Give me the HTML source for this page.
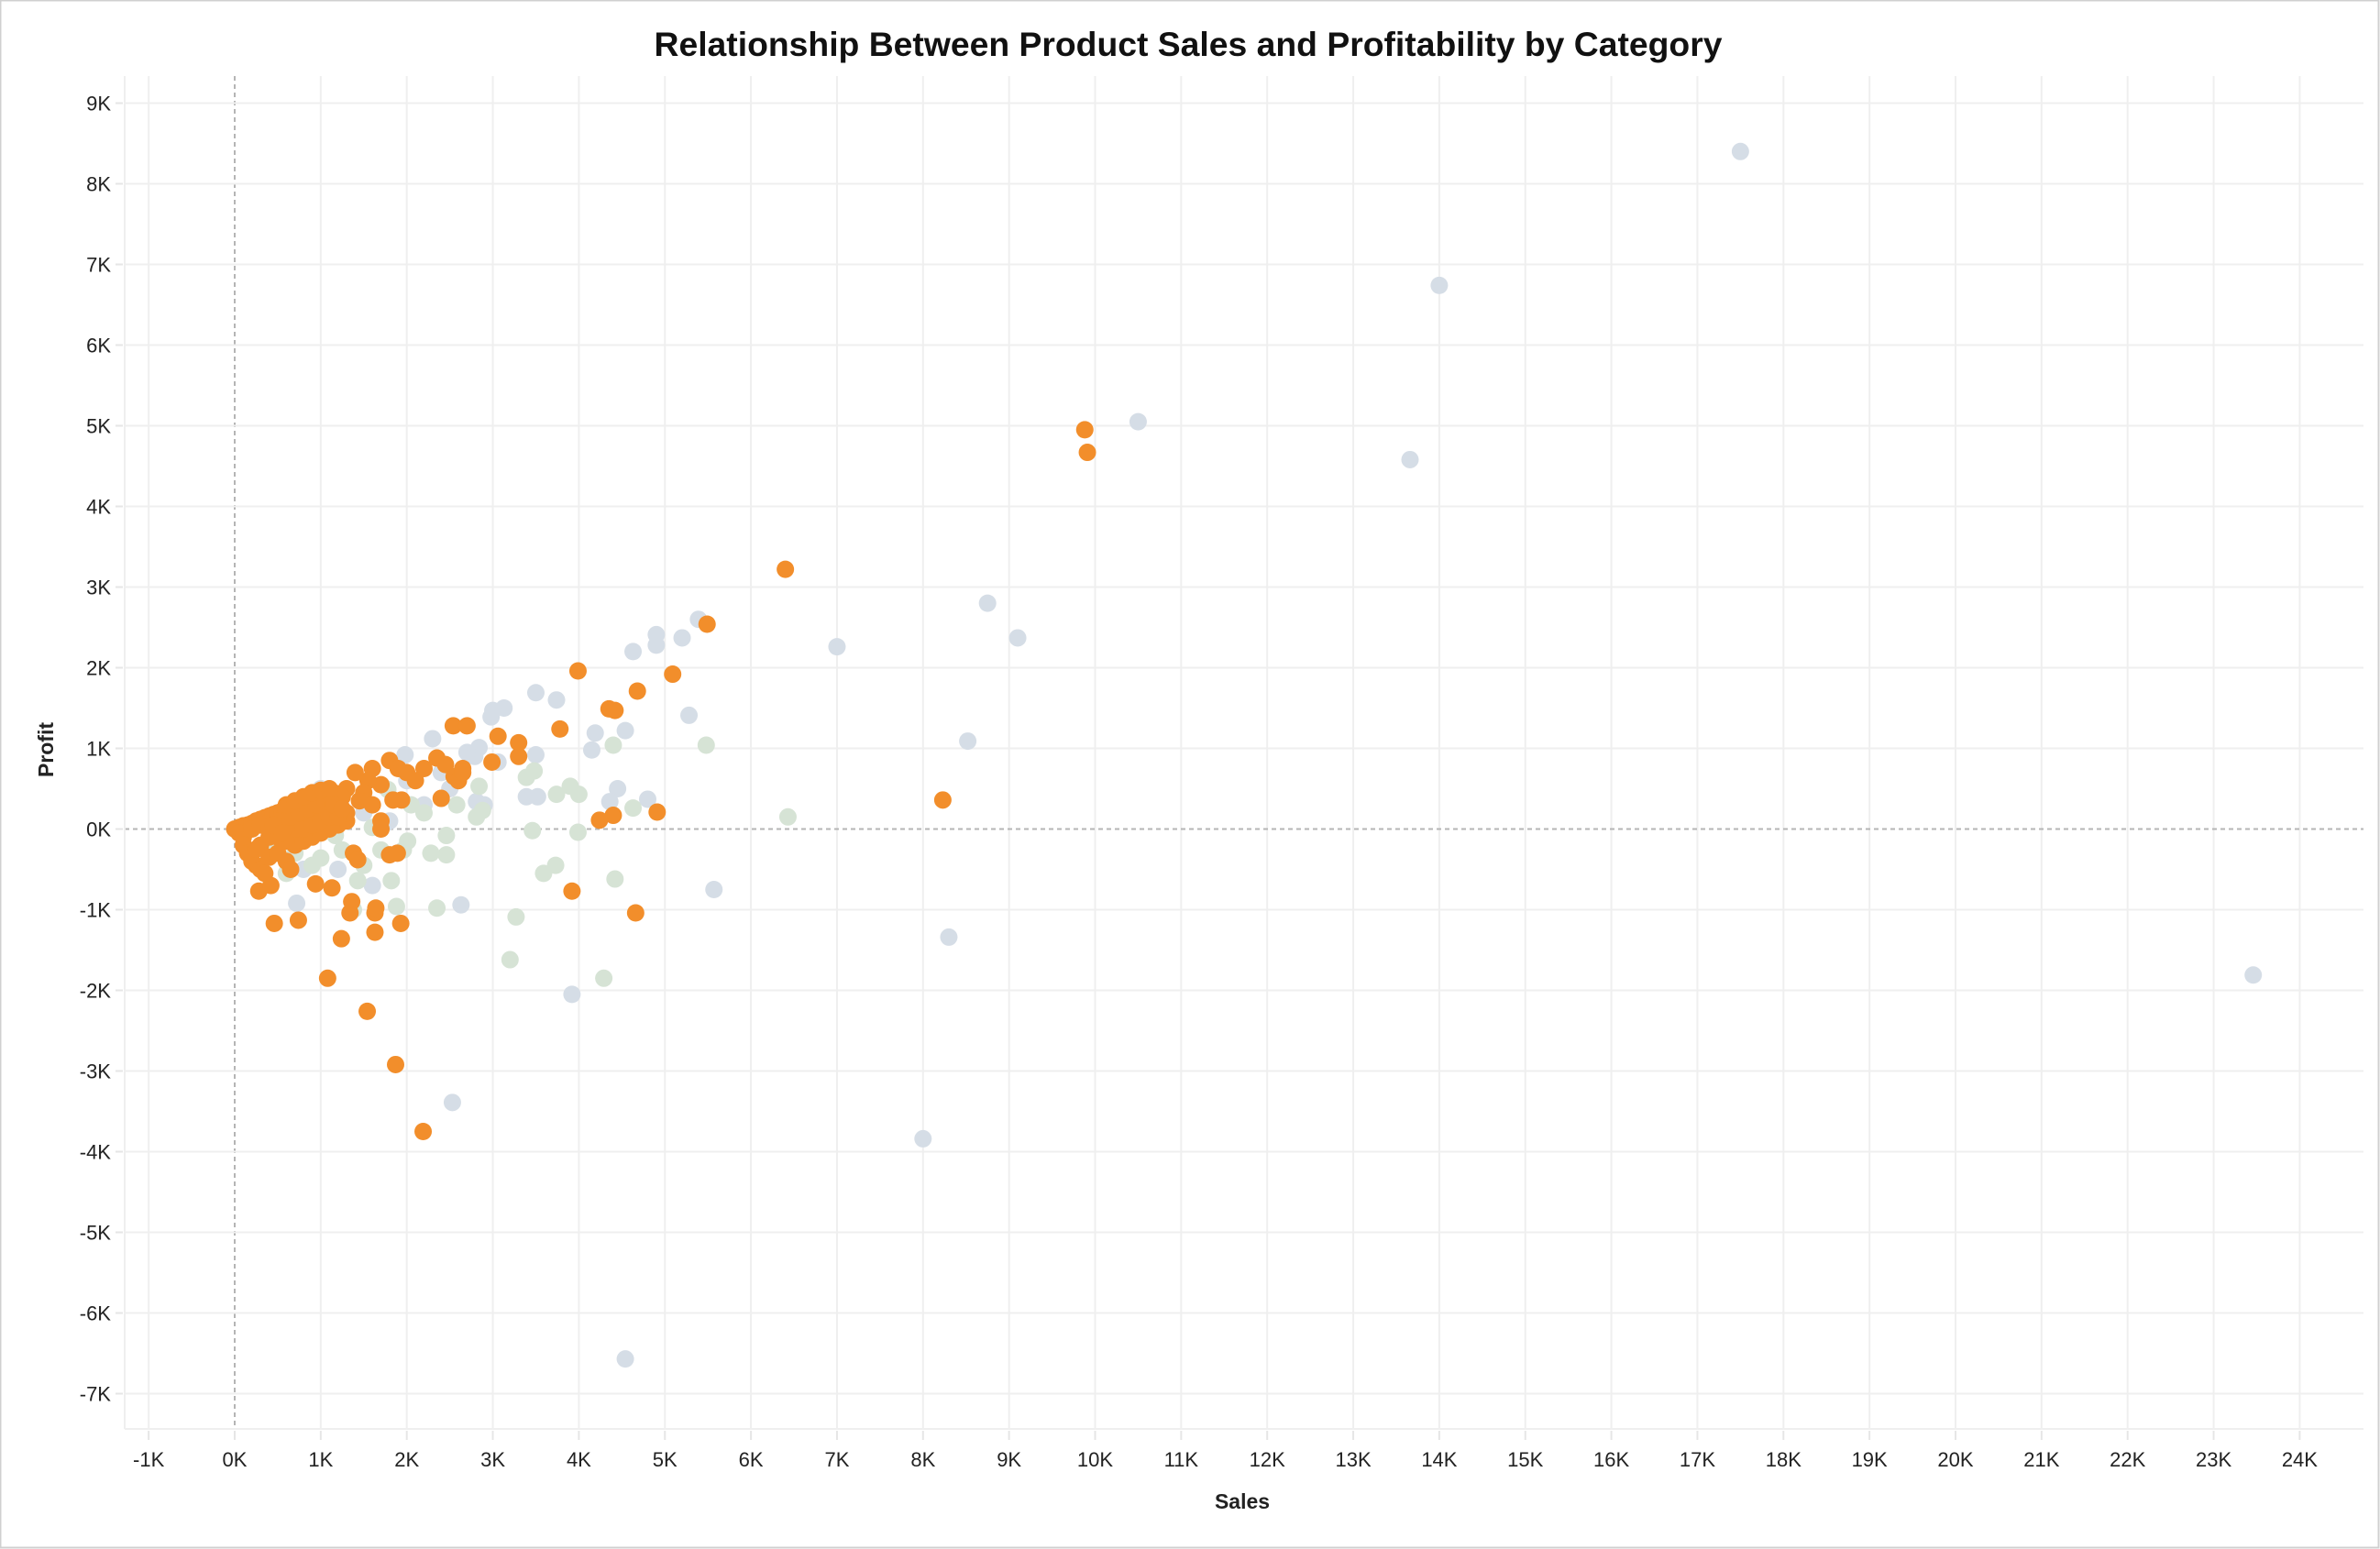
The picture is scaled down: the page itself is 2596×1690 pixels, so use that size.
<!DOCTYPE html>
<html><head><meta charset="utf-8">
<style>
html,body{margin:0;padding:0;background:#fff;}
svg{display:block;font-family:"Liberation Sans",sans-serif;}
</style></head>
<body>
<svg id="chart" width="2596" height="1690" viewBox="0 0 2596 1690">
<rect x="0.5" y="0.5" width="2594" height="1688" fill="#fff" stroke="#d0d0d0" stroke-width="2"/>
<text x="1296" y="61" text-anchor="middle" font-size="37" font-weight="bold" fill="#111" textLength="1165" lengthAdjust="spacingAndGlyphs">Relationship Between Product Sales and Profitability by Category</text>
<g id="grid"></g>
<g id="axes"></g>
<g id="marks"></g>
<text x="1355" y="1646" text-anchor="middle" font-size="23" font-weight="bold" fill="#222">Sales</text>
<text transform="translate(58,818) rotate(-90)" text-anchor="middle" font-size="23" font-weight="bold" fill="#222">Profit</text>
</svg>
<script>
const xTicks = [-1,0,1,2,3,4,5,6,7,8,9,10,11,12,13,14,15,16,17,18,19,20,21,22,23,24];
const yTicks = [9,8,7,6,5,4,3,2,1,0,-1,-2,-3,-4,-5,-6,-7];
const graySales = [17.5,14.0,10.5,13.66,8.75,9.1,7.0,8.52,5.57,8.3,23.46,8.0,4.54,2.53,3.92,2.63,5.39,5.2,4.9,4.9,4.63,5.28,4.54,4.19,4.15,3.5,3.74,3.13,3.0,2.98,3.5,4.45,4.36,4.8,3.39,3.52,3.06,2.84,2.79,2.3,1.98,2.81,0.72,0.5,1.2,1.5,2.0,2.5,2.2,1.8,0.8,1.6,1.0,2.9,2.7,2.4];
const grayProfit = [8.4,6.74,5.05,4.58,2.8,2.37,2.26,1.09,-0.75,-1.34,-1.81,-3.84,-6.57,-3.39,-2.05,-0.94,2.6,2.37,2.41,2.28,2.2,1.41,1.22,1.19,0.98,1.69,1.6,1.5,1.47,1.39,0.92,0.5,0.34,0.37,0.4,0.4,0.83,1.01,0.9,1.12,0.92,0.34,-0.92,-0.2,-0.5,0.2,0.6,0.5,0.3,0.1,-0.5,-0.7,0.5,0.3,0.95,0.7];
const greenSales = [6.43,5.48,4.4,4.42,4.29,3.2,3.27,2.35,3.59,3.73,3.46,3.99,3.48,3.39,3.9,3.74,4.0,4.63,2.88,2.81,2.46,2.01,1.82,1.88,2.46,2.28,1.43,1.25,1.7,1.96,0.6,0.46,1.0,1.38,2.58,2.05,1.6,1.17,1.78,2.84,0.9,1.5,2.2,0.7];
const greenProfit = [0.15,1.04,1.04,-0.62,-1.85,-1.62,-1.09,-0.98,-0.55,-0.45,-0.02,-0.04,0.72,0.64,0.53,0.43,0.43,0.26,0.23,0.15,-0.08,-0.15,-0.64,-0.96,-0.32,-0.3,-0.64,-0.26,-0.26,-0.26,-0.55,-0.26,-0.36,-1.0,0.3,0.3,0.02,-0.08,0.49,0.53,-0.45,-0.45,0.2,-0.3];
const orangeSales = [9.88,9.91,6.4,5.49,3.99,5.09,4.68,4.35,4.42,3.78,2.54,2.7,3.06,3.3,3.3,2.99,8.23,4.91,4.4,4.24,3.92,4.66,1.08,1.54,1.87,2.19,0.46,0.74,1.24,1.63,1.63,1.64,1.34,1.36,1.93,1.13,0.94,0.28,0.42,1.8,1.89,1.38,1.43,2.4,1.94,1.84,
2.2,2.1,2.35,2.45,2.55,2.65,2.6,2.65,1.8,1.9,2.0,1.7,1.6,1.55,1.4,1.5,1.45,1.6,1.7,1.7,1.3,1.2,
0,0.05,0.1,0.15,0.2,0.25,0.3,0.35,0.4,0.45,0.5,0.55,0.6,0.65,0.7,0.75,0.8,0.85,0.9,0.95,1.0,1.05,1.1,1.15,1.2,1.25,
0.05,0.1,0.1,0.15,0.2,0.25,0.3,0.35,0.4,0.5,0.6,0.65,0.7,0.8,0.9,1.0,1.1,1.2,1.3,1.3,
0.2,0.3,0.4,0.5,0.6,0.7,0.8,0.9,1.0,1.1,1.2,0.3,0.4,0.5,0.6,0.7,0.8,0.9,1.0,1.1,1.2,0.25,0.45,0.55,0.65,0.75,0.85,0.95,1.05,1.15,1.25,0.6,0.7,0.8,0.9,1.0,1.1];
const orangeProfit = [4.95,4.67,3.22,2.54,1.96,1.92,1.71,1.49,1.47,1.24,1.28,1.28,1.15,1.07,0.9,0.83,0.36,0.21,0.17,0.11,-0.77,-1.04,-1.85,-2.26,-2.92,-3.75,-1.17,-1.13,-1.36,-1.28,-1.04,-0.98,-1.04,-0.9,-1.17,-0.73,-0.68,-0.77,-0.7,-0.32,-0.3,-0.3,-0.38,0.38,0.36,0.36,
0.75,0.6,0.88,0.8,0.65,0.75,0.6,0.7,0.85,0.75,0.7,0.55,0.75,0.6,0.7,0.45,0.35,0.3,0.1,0.0,0.5,0.4,
0,0.02,0.04,0.05,0.07,0.1,0.12,0.14,0.16,0.18,0.2,0.22,0.24,0.26,0.28,0.3,0.32,0.35,0.37,0.4,0.42,0.44,0.46,0.45,0.42,0.4,
-0.05,-0.1,-0.2,-0.3,-0.4,-0.45,-0.5,-0.55,-0.35,-0.3,-0.4,-0.5,-0.2,-0.15,-0.1,-0.05,0.0,0.05,0.1,0.2,
0.0,0.05,0.0,0.1,0.05,0.1,0.15,0.2,0.25,0.3,0.25,-0.2,-0.1,-0.1,-0.15,0.0,0.0,0.05,0.1,0.15,0.15,-0.25,0.05,-0.05,0.15,0.2,0.25,0.3,0.35,0.3,0.25,0.3,0.35,0.4,0.45,0.48,0.5];

const NS = 'http://www.w3.org/2000/svg';
const PL = 136, PR = 2578, PT = 83, PB = 1559;
function xS(v){ return 256 + v * 93.85; }
function yS(v){ return 904.5 - v * 88.0; }
function mk(tag, attrs, parent){
  const e = document.createElementNS(NS, tag);
  for (const k in attrs) e.setAttribute(k, attrs[k]);
  parent.appendChild(e);
  return e;
}
const grid = document.getElementById('grid');
const axes = document.getElementById('axes');
const marks = document.getElementById('marks');

xTicks.forEach(t => {
  const x = xS(t);
  const l = mk('line', {x1:x, x2:x, y1:PT, y2:PB, stroke: t===0 ? '#b5b5b5' : '#efefef', 'stroke-width': 2, 'stroke-dasharray': t===0 ? '5,4' : 'none'}, grid);
  
  
  const tk = mk('line', {x1:x, x2:x, y1:PB+2, y2:PB+12, stroke:'#e6e6e6', 'stroke-width':2}, axes);
  
  
  const tx = mk('text', {x:x, y:1600, 'text-anchor':'middle', 'font-size':22, fill:'#222'}, axes);
  tx.textContent = t + 'K';
  
  
});
yTicks.forEach(t => {
  const y = yS(t);
  const l = mk('line', {x1:PL, x2:PR, y1:y, y2:y, stroke: t===0 ? '#b5b5b5' : '#efefef', 'stroke-width': 2, 'stroke-dasharray': t===0 ? '5,4' : 'none'}, grid);
  
  
  const tk = mk('line', {x1:126, x2:134, y1:y, y2:y, stroke:'#e6e6e6', 'stroke-width':2}, axes);
  
  
  const tx = mk('text', {x:121, y:y+8, 'text-anchor':'end', 'font-size':22, fill:'#222'}, axes);
  tx.textContent = t + 'K';
  
  
});
const bl = mk('line', {x1:PL, x2:PR, y1:PB, y2:PB, stroke:'#efefef', 'stroke-width':2}, grid);


const lft = mk('line', {x1:PL, x2:PL, y1:PT, y2:PB, stroke:'#efefef', 'stroke-width':2}, grid);



function drawSeries(sales, profit, color, name){
  for (let i = 0; i < sales.length; i++) {
    const c = mk('circle', {cx:xS(sales[i]), cy:yS(profit[i]), r:9.5, fill:color}, marks);
    
    
  }
}
drawSeries(graySales, grayProfit, '#d5dde6', 'point-gray-category');
drawSeries(greenSales, greenProfit, '#d6e3d5', 'point-green-category');
drawSeries(orangeSales, orangeProfit, '#f28e2b', 'point-orange-category');
</script>
</body></html>
